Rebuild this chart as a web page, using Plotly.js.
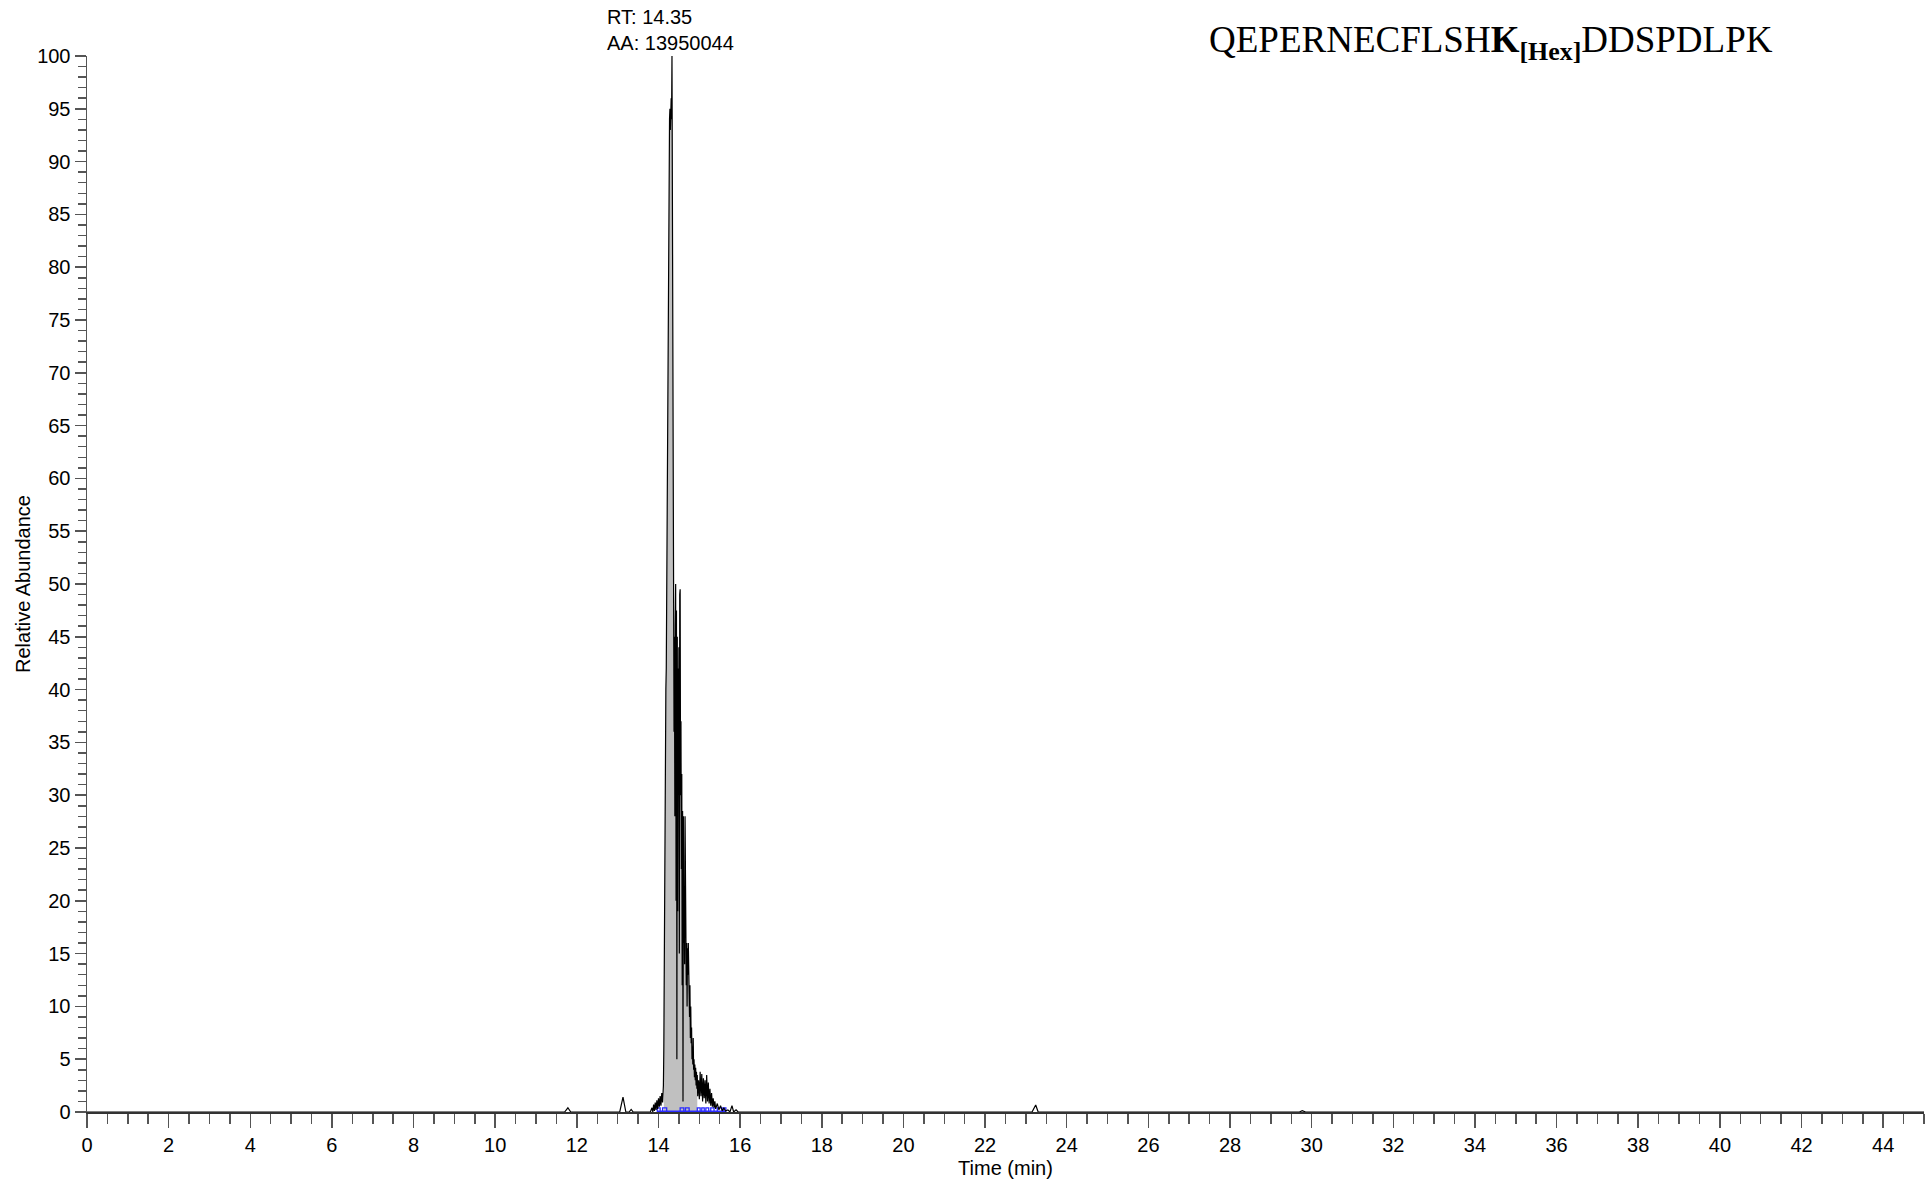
<!DOCTYPE html>
<html>
<head>
<meta charset="utf-8">
<script src="https://cdn.plot.ly/plotly-3.0.1.min.js"></script>
<style>
  html, body { margin: 0; padding: 0; background: #ffffff; }
  #chart { width: 1928px; height: 1184px; }
</style>
</head>
<body>
<div id="chart"></div>
<script>
// ---- Chromatogram data (Time in min, Relative Abundance in %) ----
const timeMin = [
  0, 11.70, 11.78, 11.85, 13.05, 13.13, 13.20, 13.28, 13.33, 13.38,
  13.80, 13.84, 13.86, 13.88, 13.90, 13.92, 13.94, 13.96, 13.98, 14.00,
  14.02, 14.04, 14.06, 14.08, 14.10, 14.12, 14.13, 14.14, 14.15, 14.16,
  14.17, 14.18, 14.19, 14.20, 14.21, 14.22, 14.23, 14.24, 14.25, 14.26,
  14.27, 14.28, 14.29, 14.30, 14.31, 14.32, 14.33, 14.34, 14.35, 14.36,
  14.37, 14.38, 14.39, 14.40, 14.41, 14.42, 14.43, 14.44, 14.45, 14.46,
  14.47, 14.48, 14.49, 14.50, 14.51, 14.52, 14.53, 14.54, 14.55, 14.56,
  14.57, 14.58, 14.59, 14.60, 14.61, 14.62, 14.63, 14.64, 14.65, 14.66,
  14.67, 14.68, 14.69, 14.70, 14.71, 14.72, 14.73, 14.74, 14.75, 14.76,
  14.77, 14.78, 14.79, 14.80, 14.81, 14.82, 14.83, 14.84, 14.85, 14.86,
  14.87, 14.88, 14.89, 14.90, 14.91, 14.92, 14.93, 14.94, 14.95, 14.96,
  14.98, 15.00, 15.02, 15.04, 15.06, 15.08, 15.10, 15.12, 15.14, 15.16,
  15.18, 15.20, 15.22, 15.24, 15.26, 15.28, 15.30, 15.32, 15.34, 15.36,
  15.38, 15.40, 15.44, 15.48, 15.52, 15.56, 15.60, 15.64, 15.70, 15.75,
  15.80, 15.84, 15.90, 15.95, 16.10, 23.15, 23.24, 23.30, 29.70, 29.77,
  29.85, 45
];
const relAbundance = [
  0, 0, 0.4, 0, 0, 1.4, 0, 0, 0.25, 0,
  0, 0.4, 0, 0.7, 0.1, 0.9, 0.2, 1.1, 0.3, 1.3,
  0.5, 1.5, 0.6, 1.8, 0.9, 2.5, 6, 15, 24, 33,
  38, 40, 42, 50, 58, 65, 68, 76, 84, 93,
  94, 95, 93, 94.5, 96, 94, 100, 85, 65, 48,
  44, 36, 45, 28, 46, 50, 20, 47.5, 5, 45,
  19, 42, 33, 44, 15, 49, 49.5, 30, 37, 23,
  32, 12, 28.5, 1, 28, 16, 20, 14, 28, 15,
  16.5, 12, 16, 10, 15.5, 13, 16, 11, 14.5, 9,
  12, 7, 10, 6.5, 8, 5, 6.2, 4.5, 7, 4,
  5, 3.3, 4.5, 3, 4.2, 2.5, 3.8, 2.2, 3.5, 1.5,
  3, 1.2, 3.8, 1.5, 3.6, 1.0, 3.2, 1.3, 3.0, 0.8,
  3.5, 1.0, 2.8, 0.8, 2.2, 0.6, 1.8, 0.5, 1.3, 0.4,
  1.0, 0.3, 0.8, 0.2, 0.6, 0.1, 0.4, 0.1, 0.2, 0,
  0.6, 0, 0.2, 0, 0, 0, 0.66, 0, 0, 0.13,
  0, 0
];
// integrated peak window (min)
const areaStart = 14.13;
const areaEnd = 14.95;
// integration boundary brackets (min)
const bracketStarts = [13.97, 14.10, 14.53, 14.66, 14.95, 15.06, 15.16, 15.28, 15.44, 15.59];
const bracketEnds   = [14.04, 14.20, 14.62, 14.75, 15.02, 15.12, 15.23, 15.36, 15.56, 15.65];
const bracketHeight = 0.4;
// peak label
const peakRT = "14.35";
const peakArea = "13950044";
const peptideHtml = "QEPERNECFLSH<b>K<sub>[Hex]</sub></b>DDSPDLPK";

// ---- build traces ----
const fillX = [], fillY = [];
timeMin.forEach((t, i) => {
  if (t >= areaStart && t <= areaEnd) { fillX.push(t); fillY.push(relAbundance[i]); }
});

const bx = [], by = [];
bracketStarts.forEach((s, i) => {
  const e = bracketEnds[i];
  bx.push(s, s, e, e, null);
  by.push(0, bracketHeight, bracketHeight, 0, null);
});

const traces = [
  { x: fillX, y: fillY, type: 'scatter', mode: 'lines', fill: 'tozeroy',
    fillcolor: '#c0c0c0', line: { width: 0, color: 'rgba(0,0,0,0)' }, hoverinfo: 'skip', showlegend: false },
  { x: [bracketStarts[0], bracketEnds[bracketEnds.length - 1]], y: [0.05, 0.05], type: 'scatter', mode: 'lines',
    line: { color: '#2a2aff', width: 2 }, showlegend: false, hoverinfo: 'skip' },
  { x: bx, y: by, type: 'scatter', mode: 'lines', line: { color: '#2a2aff', width: 1.3 },
    showlegend: false, hoverinfo: 'skip' },
  { x: timeMin, y: relAbundance, type: 'scatter', mode: 'lines',
    line: { color: '#000000', width: 1.2 }, showlegend: false }
];

const FONT = '"Liberation Sans", Arial, sans-serif';
const L = 87, R = 4, T = 56, B = 72;
const plotW = 1928 - L - R;

const layout = {
  width: 1928, height: 1184,
  margin: { l: L, r: R, t: T, b: B, pad: 0 },
  paper_bgcolor: '#ffffff', plot_bgcolor: '#ffffff',
  font: { family: FONT, size: 20, color: '#000000' },
  showlegend: false,
  xaxis: {
    range: [0, 45], dtick: 2, tick0: 0,
    ticks: 'outside', ticklen: 14, tickwidth: 1.5, tickcolor: '#555555',
    minor: { dtick: 0.5, ticklen: 10, tickwidth: 1.5, tickcolor: '#555555', ticks: 'outside' },
    showline: true, linecolor: '#333333', linewidth: 2,
    showgrid: false, zeroline: false,
    tickfont: { family: FONT, size: 20, color: '#000000' },
    title: { text: 'Time (min)', font: { family: FONT, size: 20, color: '#000000' }, standoff: 6 },
    automargin: false
  },
  yaxis: {
    range: [0, 100], dtick: 5, tick0: 0,
    ticks: 'outside', ticklen: 11, tickwidth: 1.5, tickcolor: '#555555',
    minor: { dtick: 1, ticklen: 8, tickwidth: 1.5, tickcolor: '#555555', ticks: 'outside' },
    showline: true, linecolor: '#555555', linewidth: 1.5,
    showgrid: false, zeroline: false,
    tickfont: { family: FONT, size: 20, color: '#000000' },
    title: { text: 'Relative Abundance', font: { family: FONT, size: 20, color: '#000000' }, standoff: 1 },
    automargin: false
  },
  annotations: [
    { xref: 'paper', yref: 'paper', x: (605 - L) / plotW, y: 1 + (56 - 30) / 1056,
      xanchor: 'left', yanchor: 'middle', align: 'left', showarrow: false,
      text: 'RT: ' + peakRT + '<br>AA: ' + peakArea,
      font: { family: FONT, size: 20, color: '#000000' } },
    { xref: 'paper', yref: 'paper', x: (1207 - L) / plotW, y: 1 + (56 - 42) / 1056,
      xanchor: 'left', yanchor: 'middle', showarrow: false,
      text: peptideHtml,
      font: { family: '"Liberation Serif", "Times New Roman", serif', size: 37, color: '#000000' } }
  ]
};

Plotly.newPlot('chart', traces, layout, { displayModeBar: false, staticPlot: true });
</script>
</body>
</html>
